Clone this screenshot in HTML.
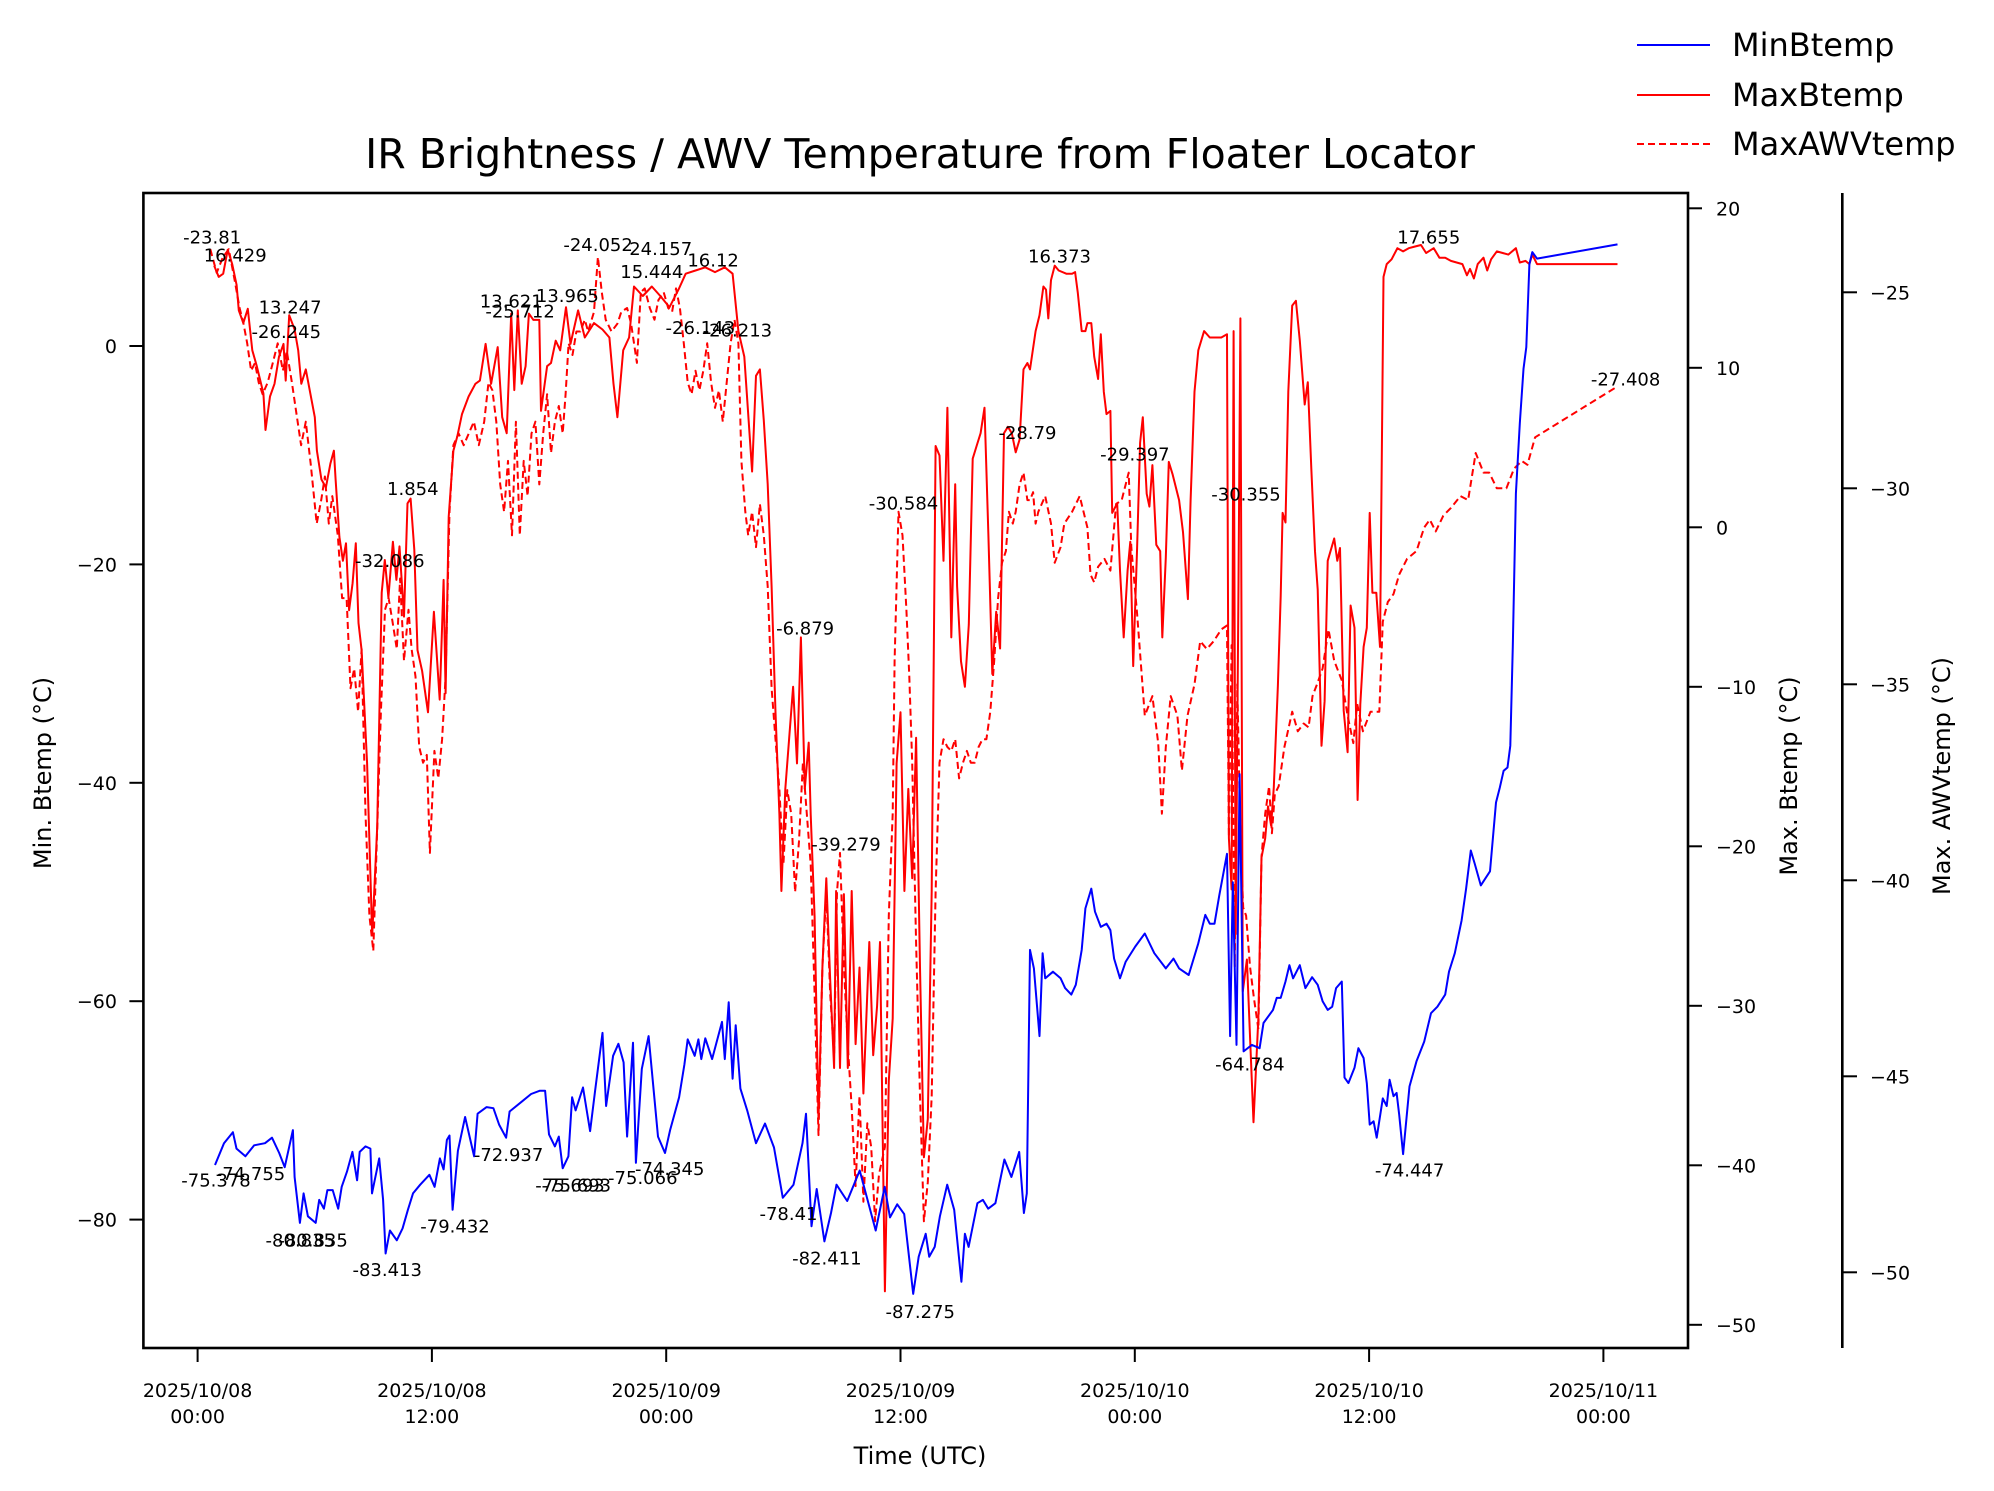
<!DOCTYPE html>
<html><head><meta charset="utf-8"><style>
html,body{margin:0;padding:0;background:#fff;}
svg{display:block;font-family:"DejaVu Sans","Liberation Sans",sans-serif;}
</style></head><body>
<svg id="chart" width="1994" height="1491" viewBox="0 0 1994 1491" xmlns="http://www.w3.org/2000/svg">
<defs><clipPath id="plotclip"><rect x="143.4" y="193" width="1544.6" height="1155"/></clipPath></defs>
<rect width="1994" height="1491" fill="#fff"/>
<text x="920" y="168" font-size="41" text-anchor="middle">IR Brightness / AWV Temperature from Floater Locator</text>
<g id="series" clip-path="url(#plotclip)"></g>
<g id="annots"></g>
<rect x="143.4" y="193" width="1544.6" height="1155" fill="none" stroke="#000" stroke-width="2.6"/>
<line x1="1842.3" y1="193" x2="1842.3" y2="1348" stroke="#000" stroke-width="2.6"/>
<g id="axes"></g>
<text x="920" y="1464" font-size="24" text-anchor="middle">Time (UTC)</text>
<text transform="translate(51,773) rotate(-90)" font-size="24" text-anchor="middle">Min. Btemp (°C)</text>
<text transform="translate(1797,776) rotate(-90)" font-size="24" text-anchor="middle">Max. Btemp (°C)</text>
<text transform="translate(1950,776) rotate(-90)" font-size="24" text-anchor="middle">Max. AWVtemp (°C)</text>
<g>
<line x1="1637" y1="45" x2="1710" y2="45" stroke="#00f" stroke-width="2"/>
<text x="1732" y="56" font-size="32">MinBtemp</text>
<line x1="1637" y1="95" x2="1710" y2="95" stroke="#f00" stroke-width="2"/>
<text x="1732" y="106" font-size="32">MaxBtemp</text>
<line x1="1637" y1="144" x2="1710" y2="144" stroke="#f00" stroke-width="2" stroke-dasharray="7,4"/>
<text x="1732" y="155" font-size="32">MaxAWVtemp</text>
</g>
</svg>
<script>
const minT=[0.89,1.35,1.81,1.99,2.45,2.9,3.45,3.81,4.18,4.46,4.88,4.97,5.24,5.43,5.65,6.05,6.23,6.47,6.65,6.92,7.2,7.38,7.65,7.93,8.17,8.3,8.6,8.85,8.93,9.3,9.5,9.63,9.85,10.2,10.5,10.77,11.03,11.4,11.87,12.14,12.41,12.6,12.77,12.9,13.06,13.33,13.7,14.16,14.34,14.8,15.15,15.44,15.8,15.98,16.6,17.08,17.53,17.8,18.0,18.3,18.5,18.7,18.99,19.18,19.36,19.74,20.1,20.36,20.74,20.92,21.28,21.55,21.82,22.0,22.3,22.45,22.75,23.1,23.58,23.94,24.2,24.66,24.93,25.1,25.46,25.65,25.8,26.0,26.35,26.86,27.0,27.2,27.4,27.56,27.8,28.15,28.6,29.06,29.52,29.97,30.52,30.98,31.16,31.44,31.71,32.1,32.44,32.72,33.27,33.91,34.73,35.19,35.46,35.83,36.19,36.65,36.93,37.29,37.47,37.75,38.02,38.39,38.75,39.12,39.3,39.49,39.94,40.22,40.49,40.86,41.32,41.68,42.08,42.32,42.47,42.63,42.83,43.12,43.28,43.41,43.81,44.2,44.43,44.75,44.98,45.28,45.47,45.77,45.96,46.26,46.55,46.75,46.94,47.24,47.53,48.02,48.51,49.0,49.59,49.98,50.27,50.76,51.25,51.61,51.84,52.08,52.33,52.72,52.88,53.02,53.21,53.37,53.57,54.0,54.39,54.59,55.08,55.27,55.47,55.72,55.92,56.11,56.45,56.74,57.08,57.37,57.62,57.88,58.11,58.31,58.6,58.74,58.94,59.25,59.45,59.72,59.88,60.03,60.23,60.39,60.7,60.9,61.05,61.25,61.41,61.54,61.74,62.07,62.43,62.82,63.17,63.5,63.9,64.09,64.39,64.74,64.97,65.21,65.41,65.72,66.19,66.5,66.7,66.89,67.09,67.23,67.36,67.52,67.72,67.91,68.05,68.21,68.36,68.6,72.72];
const minV=[-75.0,-73.0,-72.0,-73.5,-74.2,-73.2,-73.0,-72.5,-73.9,-75.2,-71.8,-76.1,-80.3,-77.6,-79.7,-80.3,-78.2,-79.0,-77.3,-77.3,-79.0,-77.0,-75.6,-73.8,-76.4,-73.8,-73.3,-73.5,-77.6,-74.4,-78.2,-83.1,-81.0,-81.9,-80.8,-79.1,-77.6,-76.8,-75.9,-77.0,-74.4,-75.4,-72.7,-72.3,-79.1,-73.7,-70.6,-74.2,-70.3,-69.7,-69.8,-71.3,-72.5,-70.1,-69.2,-68.5,-68.2,-68.2,-72.2,-73.3,-72.4,-75.3,-74.2,-68.8,-70.0,-67.9,-71.9,-68.2,-62.9,-69.6,-65.0,-63.9,-65.6,-72.4,-63.8,-74.8,-66.2,-63.2,-72.4,-73.9,-71.8,-68.8,-65.8,-63.5,-65.0,-63.5,-65.3,-63.4,-65.3,-61.9,-65.3,-60.1,-67.1,-62.2,-68,-70.0,-73.0,-71.2,-73.4,-78.0,-76.8,-73.0,-70.3,-80.6,-77.2,-82.0,-79.4,-76.8,-78.3,-75.5,-81.0,-77,-79.8,-78.6,-79.5,-86.8,-83.4,-81.3,-83.4,-82.5,-79.7,-76.8,-79.1,-85.7,-81.3,-82.5,-78.5,-78.2,-79.0,-78.5,-74.5,-76.1,-73.8,-79.4,-77.6,-55.3,-57.0,-63.2,-55.6,-57.9,-57.3,-57.9,-58.8,-59.4,-58.5,-55.3,-51.5,-49.7,-51.8,-53.2,-52.9,-53.5,-56.1,-57.9,-56.4,-55.0,-53.8,-55.6,-57.0,-56.1,-57.0,-57.6,-54.7,-52.1,-52.9,-52.9,-50.3,-46.5,-63.2,-49.1,-64.0,-39.2,-64.6,-64.0,-64.3,-62.0,-60.8,-59.7,-59.7,-58.2,-56.7,-57.9,-56.7,-58.8,-57.8,-58.5,-60.0,-60.8,-60.5,-58.8,-58.2,-67.0,-67.5,-66.1,-64.3,-65.2,-67.5,-71.3,-71.0,-72.5,-68.9,-69.6,-67.2,-68.7,-68.4,-70.4,-74.0,-67.8,-65.5,-63.7,-61.1,-60.5,-59.4,-57.3,-55.6,-52.6,-49.7,-46.2,-47.4,-49.4,-48.1,-41.8,-40.4,-38.9,-38.6,-36.6,-27.5,-13.5,-7.1,-2.1,-0.1,7.5,8.6,8.0,9.3];
const maxT=[0.85,1.08,1.31,1.54,1.77,2.0,2.11,2.34,2.57,2.8,3.03,3.37,3.48,3.71,3.94,4.17,4.4,4.51,4.69,4.97,5.15,5.31,5.54,5.77,6.0,6.11,6.34,6.57,6.8,6.98,7.07,7.26,7.44,7.6,7.76,7.94,8.1,8.24,8.4,8.68,8.94,9.2,9.43,9.59,9.77,10.0,10.18,10.34,10.57,10.75,10.91,11.1,11.26,11.5,11.8,12.1,12.4,12.6,12.7,12.86,13.1,13.3,13.54,13.88,14.23,14.46,14.75,15.03,15.37,15.6,15.83,16.06,16.22,16.4,16.6,16.8,16.97,17.2,17.5,17.59,17.9,18.1,18.34,18.57,18.87,19.1,19.49,19.83,20.3,20.74,21.09,21.3,21.5,21.8,22.1,22.35,22.8,23.26,23.7,24.17,24.63,25.0,25.5,26.0,26.5,27.0,27.4,27.7,28.0,28.4,28.6,28.8,29.0,29.2,29.4,29.6,29.8,29.9,30.1,30.3,30.5,30.7,30.9,31.1,31.3,31.4,31.6,31.8,32.0,32.2,32.4,32.6,32.7,32.9,33.1,33.3,33.5,33.7,33.9,34.1,34.4,34.6,34.8,34.95,35.2,35.4,35.6,35.8,36.0,36.2,36.4,36.6,36.8,37.0,37.2,37.4,37.6,37.8,38.0,38.2,38.4,38.6,38.8,38.9,39.1,39.3,39.5,39.7,39.9,40.1,40.3,40.5,40.7,40.9,41.1,41.3,41.5,41.7,41.9,42.1,42.3,42.5,42.63,42.92,43.12,43.32,43.45,43.57,43.71,43.9,44.1,44.49,44.79,44.94,45.08,45.28,45.47,45.57,45.77,45.92,46.12,46.26,46.41,46.55,46.75,46.84,47.1,47.24,47.43,47.63,47.77,47.92,48.12,48.27,48.41,48.61,48.75,48.9,49.1,49.3,49.41,49.59,49.74,49.94,50.27,50.47,50.72,50.86,51.06,51.25,51.55,51.84,52.14,52.43,52.72,52.82,52.96,53.06,53.17,53.31,53.41,53.53,53.74,54.08,54.33,54.49,54.68,54.82,54.98,55.12,55.33,55.47,55.57,55.72,55.86,56.06,56.25,56.45,56.7,56.86,57.04,57.23,57.37,57.56,57.72,57.88,58.21,58.37,58.51,58.7,58.9,59.05,59.25,59.41,59.55,59.72,59.88,60.03,60.17,60.37,60.56,60.74,60.9,61.15,61.45,61.74,62.03,62.33,62.66,62.92,63.31,63.6,63.9,64.19,64.48,64.78,65.01,65.17,65.37,65.56,65.86,66.05,66.25,66.54,66.84,67.13,67.52,67.72,68.01,68.21,68.36,68.6,72.72];
const maxV=[16.4,15.7,15.9,17.4,16.5,15.2,13.6,12.8,13.7,11.1,10.1,8.4,6.1,8.2,9.0,10.7,11.5,9.2,13.3,12.4,11.1,9.0,9.9,8.4,6.9,4.8,3.0,2.5,4.0,4.8,3.0,-0.6,-2.1,-1.0,-5.2,-3.5,-1.0,-6.0,-7.7,-14.8,-25.6,-18.8,-4.1,-2.05,-4.4,-0.9,-3.3,-1.2,-5.6,1.5,1.8,-1.4,-7.7,-9,-11.6,-5.3,-10.8,-3.3,-10.4,0.66,4.8,5.7,7.1,8.2,9.0,9.2,11.5,9.0,11.3,6.9,5.9,13.4,8.6,13.6,9.0,10.1,13.4,13.0,13.0,7.3,10.1,10.3,11.7,11.1,13.8,11.5,13.6,11.9,12.8,12.4,11.9,9.0,6.9,11.1,11.9,15.1,14.5,15.1,14.5,13.8,14.9,15.9,16.1,16.3,16.0,16.3,15.9,12.3,10.7,3.5,9.5,9.9,6.7,2.7,-3.7,-11.6,-18,-22.8,-16.4,-13.2,-10,-14.8,-6.9,-16.4,-13.5,-18,-24.4,-37.1,-27.6,-22,-28.4,-33.9,-22.8,-33.9,-23,-33.9,-22.8,-32.4,-27.6,-35.5,-26,-33.1,-30,-26,-47.9,-34.7,-30.8,-14.8,-11.6,-22.8,-16.4,-22,-13.2,-27.6,-39.5,-37.1,-22.8,5.1,4.5,-2.1,7.5,-6.9,2.7,-3.7,-8.4,-10,-6.1,4.3,5.1,5.9,7.5,-0.5,-9.2,-5.3,-7.6,5.9,6.3,5.9,4.7,5.5,9.9,10.3,9.9,12.3,13.3,15.1,14.9,13.1,15.5,16.4,16.1,15.9,15.9,16.0,14.7,12.3,12.3,12.8,12.8,10.7,9.3,12.1,8.5,7.1,7.3,0.9,1.5,-2.7,-6.9,-2.7,-0.9,-8.7,-1.3,5.3,6.9,2.1,1.3,3.9,-1.1,-1.5,-6.9,-1.9,4.1,3.3,1.7,-0.3,-4.5,1.7,8.5,11.1,12.3,11.9,11.9,11.9,12.1,-19.5,-22.7,12.3,-25.5,-3.5,13.1,-29.1,-27.1,-37.3,-30.7,-20.7,-19.5,-17.5,-18.7,-16.3,-9.9,-4.3,0.9,0.3,8.5,13.9,14.2,11.7,7.7,9.1,3.7,-1.5,-3.9,-13.7,-10.9,-2.1,-0.7,-2.1,-1.3,-11.5,-14.1,-4.9,-6.3,-17.1,-11.1,-7.5,-6.3,0.9,-4.1,-4.1,-7.5,15.7,16.5,16.8,17.5,17.3,17.5,17.6,17.7,17.2,17.5,16.9,16.9,16.7,16.6,16.5,15.8,16.2,15.6,16.5,16.9,16.1,16.8,17.3,17.2,17.1,17.5,16.6,16.7,16.5,17.1,16.5,16.5];
const awvT=[0.65,0.98,1.3,1.6,1.9,2.15,2.35,2.54,2.74,2.94,3.13,3.33,3.59,3.85,4.1,4.37,4.57,4.83,5.02,5.3,5.54,5.8,6.1,6.33,6.52,6.72,6.9,7.18,7.4,7.63,7.83,8.02,8.22,8.4,8.6,8.8,9.0,9.2,9.39,9.6,9.78,9.98,10.2,10.37,10.57,10.8,10.96,11.16,11.35,11.55,11.74,11.9,12.13,12.33,12.52,12.7,12.9,13.1,13.37,13.63,13.89,14.15,14.4,14.68,14.9,15.1,15.3,15.5,15.7,15.9,16.1,16.3,16.5,16.7,16.9,17.1,17.3,17.5,17.7,17.9,18.1,18.3,18.5,18.7,18.85,19.0,19.2,19.4,19.6,19.83,20.0,20.3,20.5,20.7,20.9,21.2,21.5,21.7,22.0,22.2,22.5,22.7,22.9,23.16,23.4,23.6,23.87,24.1,24.3,24.5,24.7,24.9,25.1,25.3,25.5,25.7,25.9,26.1,26.3,26.5,26.7,26.9,27.1,27.3,27.5,27.7,27.85,28.05,28.2,28.4,28.6,28.8,29.0,29.2,29.4,29.6,29.8,30.0,30.2,30.4,30.6,30.8,31.0,31.2,31.4,31.6,31.8,32.0,32.2,32.4,32.6,32.75,32.9,33.1,33.3,33.5,33.7,33.9,34.1,34.3,34.5,34.7,34.9,35.2,35.4,35.6,35.7,35.9,36.1,36.3,36.45,36.6,36.8,37.0,37.2,37.4,37.6,37.8,38.0,38.2,38.4,38.6,38.8,39.0,39.2,39.4,39.6,39.8,40.0,40.2,40.4,40.6,40.8,41.0,41.2,41.4,41.55,41.75,41.9,42.1,42.3,42.5,42.63,42.79,42.92,43.06,43.41,43.71,43.9,44.2,44.39,44.79,45.18,45.57,45.73,45.92,46.12,46.45,46.75,47.04,47.33,47.69,47.82,48.12,48.51,48.9,49.2,49.39,49.59,49.84,50.18,50.41,50.7,51.06,51.35,51.69,52.04,52.43,52.72,52.82,52.96,53.12,53.25,53.41,53.55,53.7,53.9,54.1,54.33,54.49,54.68,54.88,55.02,55.17,55.37,55.66,56.06,56.35,56.65,56.9,57.1,57.33,57.62,57.92,58.21,58.6,58.9,59.19,59.39,59.68,60.07,60.52,60.7,60.96,61.25,61.54,61.94,62.43,62.82,63.11,63.41,63.8,64.19,64.68,65.07,65.46,65.86,66.15,66.54,67.03,67.42,67.82,68.11,68.5,72.72];
const awvV=[-23.9,-24.5,-24.1,-23.9,-24.7,-25.4,-25.8,-26.3,-27.0,-26.8,-27.3,-27.6,-27.3,-26.8,-26.3,-27.0,-26.5,-27.3,-27.95,-28.9,-28.3,-29.4,-30.9,-30.3,-29.7,-30.9,-30.2,-31.2,-32.8,-32.8,-35.1,-34.6,-35.7,-34.1,-38.3,-40.9,-41.8,-38.7,-35.7,-33.1,-32.8,-33.4,-34.1,-32.3,-34.4,-33.1,-34.1,-34.8,-36.6,-37.0,-36.8,-39.3,-36.7,-37.4,-36.4,-34.8,-30.6,-28.9,-28.6,-28.9,-28.6,-28.3,-28.9,-28.3,-27.3,-27.5,-28.3,-29.9,-30.6,-29.3,-31.2,-28.3,-31.2,-29.3,-30.2,-28.6,-28.3,-29.9,-28.6,-27.6,-29.1,-28.3,-27.9,-28.6,-27.6,-26.3,-26.6,-26.0,-26.0,-25.7,-26.0,-25.5,-24.1,-25.0,-25.7,-26.0,-25.8,-25.5,-25.4,-25.8,-26.8,-25.0,-24.9,-25.4,-25.7,-25.2,-25.0,-25.4,-25.5,-24.9,-25.4,-26.3,-27.3,-27.6,-27.0,-27.5,-27.0,-26.3,-27.3,-27.95,-27.5,-28.3,-27.3,-26.3,-25.7,-26.3,-29.3,-30.6,-31.2,-30.6,-31.5,-30.4,-31.2,-32.5,-35.1,-36.4,-37.7,-39.6,-37.7,-38.3,-40.3,-39.0,-37.0,-38.3,-39.6,-42.9,-46.5,-42.2,-40.3,-42.9,-44.5,-40.3,-39.3,-42.2,-44.2,-45.8,-47.8,-45.5,-48.2,-46.2,-46.8,-48.7,-47.5,-46.8,-40.9,-38.3,-34.4,-30.6,-31.2,-33.1,-34.8,-37.0,-41.6,-45.5,-48.7,-47.7,-45.5,-40.3,-37.0,-36.4,-36.6,-36.7,-36.4,-37.4,-37.0,-36.7,-37.0,-37.0,-36.6,-36.4,-36.4,-35.7,-34.4,-32.8,-31.9,-31.6,-30.6,-30.9,-30.6,-29.9,-29.6,-30.3,-30.3,-30.1,-30.9,-30.6,-30.2,-30.9,-31.9,-31.5,-30.9,-30.6,-30.2,-31.0,-32.2,-32.4,-32.0,-31.8,-32.1,-30.4,-30.3,-29.6,-31.5,-33.2,-35.8,-35.3,-36.5,-38.3,-36.6,-35.3,-35.8,-37.2,-35.8,-35.0,-33.9,-34.1,-33.9,-33.6,-33.5,-38.9,-34.0,-42.2,-35.0,-38.9,-40.7,-40.9,-42.2,-43.0,-43.8,-39.4,-38.3,-37.6,-38.8,-37.8,-37.6,-36.6,-35.7,-36.2,-36.0,-36.1,-35.3,-35.0,-34.6,-33.6,-34.4,-34.9,-35.8,-36.5,-35.5,-36.2,-35.7,-35.7,-33.4,-32.9,-32.7,-32.2,-31.8,-31.6,-31.0,-30.8,-31.1,-30.7,-30.5,-30.2,-30.3,-29.1,-29.6,-29.6,-30.0,-30.0,-29.5,-29.3,-29.4,-28.7,-27.4];
const xTickHours=[0,12,24,36,48,60,72];
const xTickLabels=[["2025/10/08","00:00"],["2025/10/08","12:00"],["2025/10/09","00:00"],["2025/10/09","12:00"],["2025/10/10","00:00"],["2025/10/10","12:00"],["2025/10/11","00:00"]];
const leftTicks=[0,-20,-40,-60,-80];
const rightTicks=[20,10,0,-10,-20,-30,-40,-50];
const awvTicks=[-25,-30,-35,-40,-45,-50];
const annotTexts=["-23.81","16.429","13.247","-26.245","1.854","-32.086","13.621","-25.712","13.965","-24.052","24.157","15.444","16.12","-26.143","-26.213","16.373","-28.79","-29.397","-30.584","-6.879","-39.279","-30.355","17.655","-27.408","-75.378","-74.755","-80.835","-80.835","-83.413","-79.432","-72.937","-75.693","-75.693","-75.066","-74.345","-78.41","-82.411","-87.275","-64.784","-74.447"];
const annotPos=[[166,185],[184,199],[227,240],[224,259],[323,382],[305,438],[400,235],[407,243],[444,231],[468,191],[517,194],[510,212],[558,203],[548,256],[577,258],[829,200],[804,338],[888,355],[707,393],[630,491],[662,660],[975,386],[1118,185],[1272,296],[169,923],[196,918],[235,970],[245,970],[303,993],[356,959],[398,903],[446,927],[451,927],[503,921],[524,914],[617,949],[647,984],[720,1026],[978,832],[1103,915]];

const NS="http://www.w3.org/2000/svg";
const X=h=>197.6+h*19.525;
const YL=v=>346-v*10.92;
const YR=v=>527.3-v*15.95;
const YA=v=>292.3-(v+25)*39.2;
function mk(tag,attrs){const e=document.createElementNS(NS,tag);for(const k in attrs)e.setAttribute(k,attrs[k]);return e;}
function pathD(ts,vs,fy){const n=Math.min(ts.length,vs.length);let d='';for(let i=0;i<n;i++){d+=(i?'L':'M')+X(ts[i]).toFixed(1)+','+fy(vs[i]).toFixed(1);}return d;}
const series=document.getElementById('series');
const pAwv=mk('path',{d:pathD(awvT,awvV,YA),fill:'none',stroke:'#f00','stroke-width':2,'stroke-dasharray':'7,4','stroke-linejoin':'round'});


series.appendChild(pAwv);
const pMax=mk('path',{d:pathD(maxT,maxV,YR),fill:'none',stroke:'#f00','stroke-width':2,'stroke-linejoin':'round'});


series.appendChild(pMax);
const pMin=mk('path',{d:pathD(minT,minV,YL),fill:'none',stroke:'#00f','stroke-width':2,'stroke-linejoin':'round'});


series.appendChild(pMin);

const axes=document.getElementById('axes');
xTickHours.forEach((h,i)=>{
  const x=X(h);
  const l=mk('line',{x1:x,y1:1348,x2:x,y2:1362,stroke:'#000','stroke-width':2});
  
  
  axes.appendChild(l);
  const t=mk('text',{x:x,y:1397,'font-size':19,'text-anchor':'middle'});
  
  
  const s1=mk('tspan',{x:x,dy:0});s1.textContent=xTickLabels[i][0];
  const s2=mk('tspan',{x:x,dy:26});s2.textContent=xTickLabels[i][1];
  t.appendChild(s1);t.appendChild(s2);axes.appendChild(t);
});
leftTicks.forEach(v=>{
  const y=YL(v);
  const l=mk('line',{x1:129.4,y1:y,x2:143.4,y2:y,stroke:'#000','stroke-width':2});
  
  
  axes.appendChild(l);
  const t=mk('text',{x:117,y:y+7,'font-size':19,'text-anchor':'end'});
  
  
  t.textContent=(v<0?'\u2212'+(-v):v);axes.appendChild(t);
});
rightTicks.forEach(v=>{
  const y=YR(v);
  const l=mk('line',{x1:1688,y1:y,x2:1702,y2:y,stroke:'#000','stroke-width':2});
  
  
  axes.appendChild(l);
  const t=mk('text',{x:1716,y:y+7,'font-size':19,'text-anchor':'start'});
  
  
  t.textContent=(v<0?'\u2212'+(-v):v);axes.appendChild(t);
});
awvTicks.forEach(v=>{
  const y=YA(v);
  const l=mk('line',{x1:1842.3,y1:y,x2:1857,y2:y,stroke:'#000','stroke-width':2});
  
  
  axes.appendChild(l);
  const t=mk('text',{x:1870,y:y+7,'font-size':19,'text-anchor':'start'});
  
  
  t.textContent='\u2212'+(-v);axes.appendChild(t);
});
const annots=document.getElementById('annots');
annotTexts.forEach((s,i)=>{
  const t=mk('text',{x:(annotPos[i][0]*1.278).toFixed(1),y:(annotPos[i][1]*1.278+7).toFixed(1),'font-size':18,'text-anchor':'middle'});
  
  
  t.textContent=s;annots.appendChild(t);
});
</script>
</body></html>
